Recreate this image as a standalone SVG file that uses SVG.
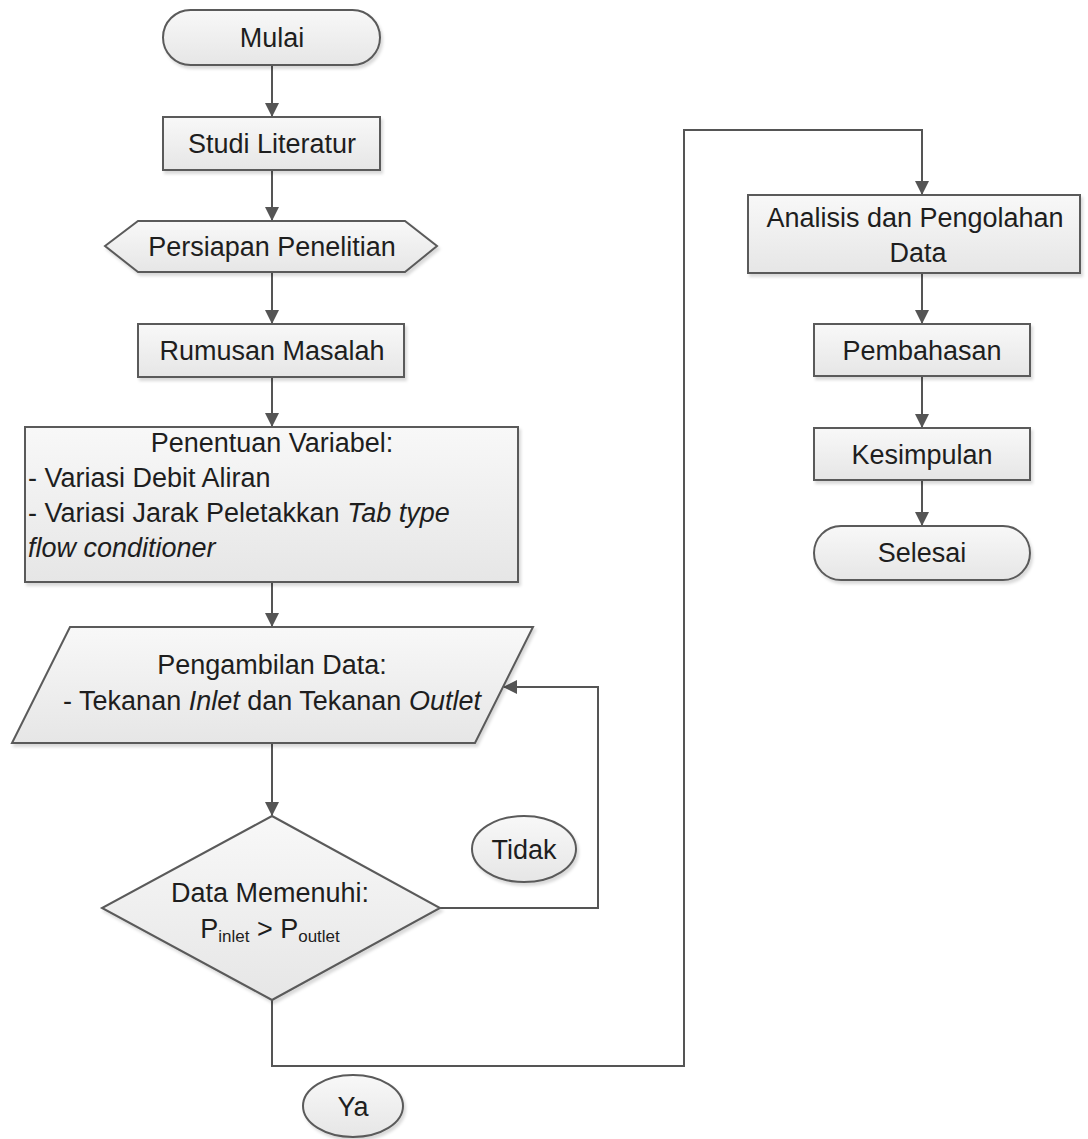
<svg xmlns="http://www.w3.org/2000/svg" width="1088" height="1139" viewBox="0 0 1088 1139">
<defs>
<linearGradient id="g" x1="0" y1="0" x2="0" y2="1">
<stop offset="0" stop-color="#f8f8f8"/>
<stop offset="1" stop-color="#e6e6e6"/>
</linearGradient>
<marker id="ah" markerWidth="14" markerHeight="14" refX="13" refY="7" orient="auto" markerUnits="userSpaceOnUse">
<path d="M0,0 L14,7 L0,14 Z" fill="#555"/>
</marker>
<filter id="sh" x="-5%" y="-5%" width="115%" height="120%">
<feDropShadow dx="2" dy="3" stdDeviation="1.5" flood-color="#000" flood-opacity="0.15"/>
</filter>
</defs>
<style>
.s{fill:url(#g);stroke:#5a5a5a;stroke-width:2;filter:url(#sh)}
.t{font-family:"Liberation Sans",Arial,sans-serif;font-size:27px;fill:#1e1e1e;text-anchor:middle}
.l{text-anchor:start}
.c{fill:none;stroke:#555;stroke-width:2}
</style>
<rect width="1088" height="1139" fill="#fff"/>
<g id="connectors">
<path class="c" d="M272,65 V116" marker-end="url(#ah)"/>
<path class="c" d="M272,170 V220" marker-end="url(#ah)"/>
<path class="c" d="M272,272 V323" marker-end="url(#ah)"/>
<path class="c" d="M272,377 V426" marker-end="url(#ah)"/>
<path class="c" d="M272,582 V626" marker-end="url(#ah)"/>
<path class="c" d="M272,743 V815" marker-end="url(#ah)"/>
<path class="c" d="M440,908 H598 V687 H504" marker-end="url(#ah)"/>
<path class="c" d="M272,1000 V1066 H684 V130 H922 V194" marker-end="url(#ah)"/>
<path class="c" d="M922,273 V323" marker-end="url(#ah)"/>
<path class="c" d="M922,376 V427" marker-end="url(#ah)"/>
<path class="c" d="M922,480 V525" marker-end="url(#ah)"/>
</g>
<g id="mulai">
<rect class="s" x="163" y="10" width="217" height="55" rx="27.5"/>
<text class="t" x="272" y="47">Mulai</text>
</g>
<g id="studi">
<rect class="s" x="163" y="117" width="217" height="53"/>
<text class="t" x="272" y="153">Studi Literatur</text>
</g>
<g id="persiapan">
<polygon class="s" points="105,246 138,221 405,221 437,246 405,272 138,272"/>
<text class="t" x="272" y="256">Persiapan Penelitian</text>
</g>
<g id="rumusan">
<rect class="s" x="138" y="324" width="266" height="53"/>
<text class="t" x="272" y="360">Rumusan Masalah</text>
</g>
<g id="penentuan">
<rect class="s" x="25" y="427" width="493" height="155"/>
<text class="t" x="272" y="452">Penentuan Variabel:</text>
<text class="t l" x="28" y="487">- Variasi Debit Aliran</text>
<text class="t l" x="28" y="522">- Variasi Jarak Peletakkan <tspan font-style="italic">Tab type</tspan></text>
<text class="t l" x="28" y="557" font-style="italic">flow conditioner</text>
</g>
<g id="pengambilan">
<polygon class="s" points="70,627 533,627 475,743 12,743"/>
<text class="t" x="272" y="674">Pengambilan Data:</text>
<text class="t" x="272" y="710">- Tekanan <tspan font-style="italic">Inlet</tspan> dan Tekanan <tspan font-style="italic">Outlet</tspan></text>
</g>
<g id="keputusan">
<polygon class="s" points="272,816 440,908 272,1000 102,908"/>
<text class="t" x="270" y="902">Data Memenuhi:</text>
<text class="t" x="270" y="938">P<tspan font-size="17" dy="4">inlet</tspan><tspan dy="-4"> &gt; P</tspan><tspan font-size="17" dy="4">outlet</tspan></text>
</g>
<g id="tidak">
<ellipse class="s" cx="524" cy="849" rx="52" ry="33"/>
<text class="t" x="524" y="859">Tidak</text>
</g>
<g id="ya">
<ellipse class="s" cx="353" cy="1106" rx="50" ry="31"/>
<text class="t" x="353" y="1116">Ya</text>
</g>
<g id="analisis">
<rect class="s" x="748" y="195" width="332" height="78"/>
<text class="t" x="915" y="227">Analisis dan Pengolahan</text>
<text class="t" x="918" y="262">Data</text>
</g>
<g id="pembahasan">
<rect class="s" x="814" y="324" width="216" height="52"/>
<text class="t" x="922" y="360">Pembahasan</text>
</g>
<g id="kesimpulan">
<rect class="s" x="814" y="428" width="216" height="52"/>
<text class="t" x="922" y="464">Kesimpulan</text>
</g>
<g id="selesai">
<rect class="s" x="814" y="526" width="216" height="54" rx="27"/>
<text class="t" x="922" y="562">Selesai</text>
</g>
</svg>
